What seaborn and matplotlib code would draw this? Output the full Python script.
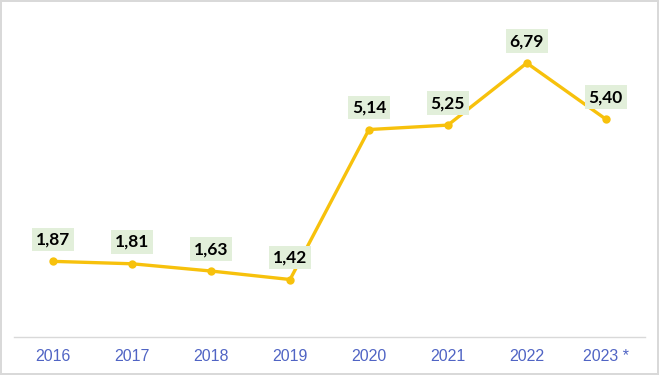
import numpy as np
import pandas as pd
import seaborn as sns
import matplotlib.pyplot as plt

years = ['2016', '2017', '2018', '2019', '2020', '2021', '2022', '2023 *']
values = [1.87, 1.81, 1.63, 1.42, 5.14, 5.25, 6.79, 5.40]
labels = ['1,87', '1,81', '1,63', '1,42', '5,14', '5,25', '6,79', '5,40']

df = pd.DataFrame({'Year': years, 'Value': values})

sns.set_theme(style='white')
plt.rcParams['font.family'] = ['Lato', 'DejaVu Sans']

fig = plt.figure(figsize=(6.59, 3.75), dpi=100, linewidth=1.5, edgecolor='#d9d9d9')
ax = fig.add_axes([0.021, 0.102, 0.958, 0.86])

sns.lineplot(data=df, x='Year', y='Value', sort=False, color='#f7c10c',
             linewidth=2.4, marker='o', markersize=6, markeredgewidth=0, ax=ax)

for i, (v, lab) in enumerate(zip(values, labels)):
    ax.annotate(lab, (i, v), xytext=(0, 10), textcoords='offset points',
                ha='center', va='bottom', fontsize=12.5, fontweight='bold', color='black',
                bbox=dict(boxstyle='square,pad=0.22', fc='#e2efda', ec='none'))

ax.set_xlim(-0.5, 7.5)
ax.set_ylim(0, 8)
ax.set_yticks([])
ax.set_xlabel('')
ax.set_ylabel('')
for s in ['top', 'left', 'right']:
    ax.spines[s].set_visible(False)
ax.spines['bottom'].set_color('#d9d9d9')
ax.spines['bottom'].set_linewidth(1)
ax.tick_params(axis='x', length=0, pad=9, labelsize=11.5, labelcolor='#5064c4')
for t in ax.get_xticklabels():
    t.set_fontfamily(['Liberation Sans', 'DejaVu Sans'])

fig.savefig('out.png', dpi=100)
